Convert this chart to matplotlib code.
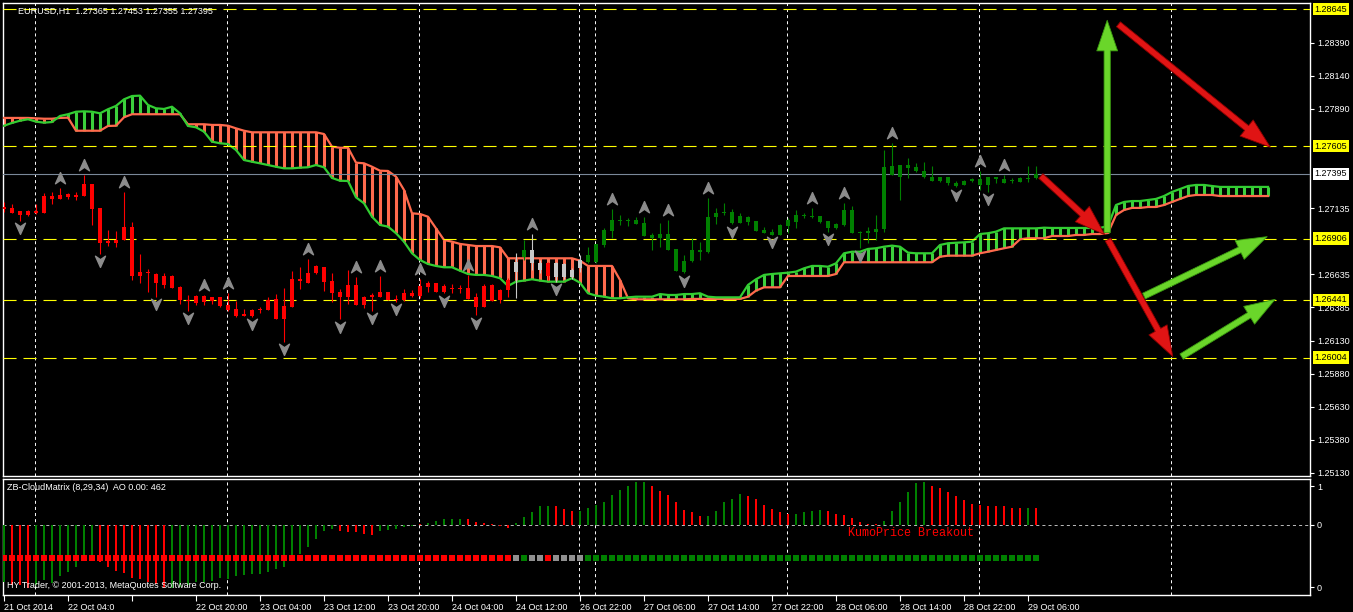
import matplotlib
matplotlib.use("Agg")
import matplotlib.pyplot as plt
from matplotlib.path import Path
from matplotlib.patches import FancyArrowPatch
from matplotlib import transforms

plt.rcParams['font.family'] = ['Liberation Sans', 'DejaVu Sans']
plt.rcParams['lines.scale_dashes'] = False

# ---- EURUSD H1 candles (bar 0 = 21 Oct 2014 20:00) ----
opens = [1.27145, 1.27137, 1.27117, 1.27084, 1.27115, 1.27102, 1.27228, 1.27208, 1.27223, 1.27238,
         1.27231, 1.27319, 1.27135, 1.26885, 1.26874, 1.26895, 1.26991, 1.26624, 1.26655, 1.26637,
         1.26554, 1.26622, 1.26539, 1.26435, 1.26420, 1.26470, 1.26435, 1.26460, 1.26402, 1.26369,
         1.26319, 1.26319, 1.26362, 1.26364, 1.26450, 1.26296, 1.26389, 1.26602, 1.26566, 1.26642,
         1.26692, 1.26587, 1.26501, 1.26460, 1.26554, 1.26402, 1.26460, 1.26465, 1.26501, 1.26440,
         1.26440, 1.26496, 1.26470, 1.26541, 1.26571, 1.26501, 1.26526, 1.26529, 1.26529, 1.26460,
         1.26389, 1.26554, 1.26440, 1.26516, 1.26652, 1.26768, 1.26819, 1.26718, 1.26720, 1.26614,
         1.26713, 1.26614, 1.26683, 1.26728, 1.26730, 1.26857, 1.26966, 1.27044, 1.27039, 1.27016,
         1.27021, 1.26933, 1.26908, 1.26940, 1.26824, 1.26655, 1.26736, 1.26819, 1.26806, 1.27067,
         1.27097, 1.27109, 1.27026, 1.27071, 1.27041, 1.26971, 1.26956, 1.26933, 1.27001, 1.27034,
         1.27079, 1.27074, 1.27077, 1.27041, 1.26983, 1.27009, 1.27122, 1.26946, 1.26946, 1.26958,
         1.26976, 1.27456, 1.27370, 1.27463, 1.27450, 1.27418, 1.27375, 1.27344, 1.27370, 1.27329,
         1.27309, 1.27342, 1.27355, 1.27312, 1.27370, 1.27355, 1.27342, 1.27337, 1.27355, 1.27365]
highs = [1.27183, 1.27168, 1.27117, 1.27122, 1.27165, 1.27249, 1.27259, 1.27289, 1.27251, 1.27261,
         1.27385, 1.27319, 1.27135, 1.26971, 1.26963, 1.27259, 1.27031, 1.26789, 1.26675, 1.26642,
         1.26642, 1.26630, 1.26546, 1.26478, 1.26478, 1.26478, 1.26465, 1.26460, 1.26491, 1.26435,
         1.26369, 1.26369, 1.26389, 1.26465, 1.26483, 1.26533, 1.26660, 1.26688, 1.26753, 1.26705,
         1.26692, 1.26642, 1.26521, 1.26667, 1.26612, 1.26473, 1.26491, 1.26622, 1.26501, 1.26478,
         1.26521, 1.26516, 1.26599, 1.26587, 1.26571, 1.26561, 1.26561, 1.26554, 1.26630, 1.26491,
         1.26561, 1.26561, 1.26521, 1.26604, 1.26794, 1.26895, 1.26940, 1.26743, 1.26728, 1.26728,
         1.26720, 1.26683, 1.26781, 1.26844, 1.26865, 1.26983, 1.27127, 1.27084, 1.27059, 1.27067,
         1.27067, 1.26946, 1.27021, 1.27046, 1.26824, 1.26781, 1.26908, 1.26882, 1.27211, 1.27135,
         1.27173, 1.27127, 1.27097, 1.27077, 1.27041, 1.26996, 1.26976, 1.27016, 1.27059, 1.27122,
         1.27102, 1.27135, 1.27077, 1.27041, 1.27021, 1.27173, 1.27153, 1.26966, 1.26996, 1.27084,
         1.27577, 1.27628, 1.27463, 1.27514, 1.27476, 1.27486, 1.27456, 1.27370, 1.27370, 1.27344,
         1.27350, 1.27363, 1.27420, 1.27375, 1.27375, 1.27388, 1.27363, 1.27375, 1.27456, 1.27453]
lows = [1.27107, 1.27097, 1.27041, 1.27079, 1.27092, 1.27102, 1.27165, 1.27208, 1.27203, 1.27198,
        1.27231, 1.27011, 1.26789, 1.26852, 1.26844, 1.26895, 1.26592, 1.26571, 1.26503, 1.26463,
        1.26533, 1.26533, 1.26408, 1.26357, 1.26402, 1.26402, 1.26408, 1.26385, 1.26359, 1.26314,
        1.26319, 1.26314, 1.26344, 1.26364, 1.26293, 1.26124, 1.26389, 1.26526, 1.26566, 1.26637,
        1.26510, 1.26427, 1.26293, 1.26409, 1.26402, 1.26377, 1.26359, 1.26465, 1.26440, 1.26427,
        1.26435, 1.26465, 1.26453, 1.26503, 1.26498, 1.26491, 1.26496, 1.26496, 1.26445, 1.26326,
        1.26384, 1.26435, 1.26415, 1.26460, 1.26453, 1.26743, 1.26667, 1.26645, 1.26592, 1.26577,
        1.26599, 1.26599, 1.26652, 1.26718, 1.26718, 1.26844, 1.26908, 1.27009, 1.27001, 1.27016,
        1.26925, 1.26819, 1.26844, 1.26819, 1.26662, 1.26642, 1.26730, 1.26743, 1.26799, 1.27016,
        1.27084, 1.27016, 1.27021, 1.27009, 1.26963, 1.26946, 1.26933, 1.26933, 1.26950, 1.26983,
        1.27059, 1.27059, 1.27026, 1.26958, 1.26976, 1.27001, 1.26946, 1.26832, 1.26870, 1.26895,
        1.26958, 1.27388, 1.27198, 1.27363, 1.27413, 1.27363, 1.27344, 1.27337, 1.27312, 1.27294,
        1.27309, 1.27337, 1.27274, 1.27261, 1.27329, 1.27325, 1.27325, 1.27337, 1.27337, 1.27355]
closes = [1.27130, 1.27102, 1.27084, 1.27117, 1.27102, 1.27228, 1.27208, 1.27236, 1.27241, 1.27223,
          1.27319, 1.27132, 1.26874, 1.26874, 1.26895, 1.26991, 1.26624, 1.26652, 1.26642, 1.26569,
          1.26622, 1.26533, 1.26440, 1.26430, 1.26470, 1.26427, 1.26460, 1.26395, 1.26364, 1.26319,
          1.26334, 1.26364, 1.26369, 1.26440, 1.26293, 1.26397, 1.26602, 1.26582, 1.26642, 1.26698,
          1.26579, 1.26491, 1.26460, 1.26554, 1.26402, 1.26460, 1.26478, 1.26503, 1.26440, 1.26448,
          1.26496, 1.26470, 1.26546, 1.26571, 1.26498, 1.26546, 1.26533, 1.26521, 1.26445, 1.26389,
          1.26546, 1.26435, 1.26516, 1.26592, 1.26728, 1.26819, 1.26718, 1.26667, 1.26622, 1.26720,
          1.26614, 1.26667, 1.26743, 1.26781, 1.26865, 1.26971, 1.27046, 1.27039, 1.27044, 1.27046,
          1.26925, 1.26908, 1.26940, 1.26819, 1.26662, 1.26736, 1.26819, 1.26806, 1.27071, 1.27097,
          1.27109, 1.27021, 1.27077, 1.27034, 1.26963, 1.26950, 1.26933, 1.27009, 1.27046, 1.27084,
          1.27081, 1.27071, 1.27034, 1.26988, 1.27016, 1.27122, 1.26946, 1.26958, 1.26966, 1.26976,
          1.27450, 1.27388, 1.27463, 1.27443, 1.27418, 1.27370, 1.27344, 1.27370, 1.27325, 1.27304,
          1.27344, 1.27355, 1.27312, 1.27370, 1.27355, 1.27329, 1.27345, 1.27363, 1.27367, 1.27395]

# cloud state per bar: R below kumo, G above, S inside
kumo_state = ("RRRRRRRRRRRRRRRRRRRRRRRRRRRRRRRRRRRRRRRRRRRRRRRRRRRRRRRRRRRRRRRR"
              "SGSSRSSSS"
              "GGGGGGGGGGGGGGGGGGGGGGGGGGGGGGGGGGGGGGGGGGGGGGGGGGGGGGGGG")

# ichimoku senkou spans (shifted 29 bars ahead)
span_a = [1.27761, 1.27782, 1.27799, 1.27810, 1.27792, 1.27784, 1.27789, 1.27835, 1.27848, 1.27867,
          1.27870, 1.27867, 1.27855, 1.27886, 1.27911, 1.27961, 1.27986, 1.27989, 1.27918, 1.27893,
          1.27888, 1.27905, 1.27855, 1.27759, 1.27749, 1.27716, 1.27640, 1.27628, 1.27622, 1.27577,
          1.27501, 1.27488, 1.27476, 1.27463, 1.27450, 1.27438, 1.27438, 1.27443, 1.27446, 1.27463,
          1.27446, 1.27365, 1.27344, 1.27342, 1.27218, 1.27173, 1.27071, 1.27009, 1.26996, 1.26946,
          1.26882, 1.26794, 1.26743, 1.26713, 1.26698, 1.26688, 1.26688, 1.26662, 1.26637, 1.26630,
          1.26630, 1.26622, 1.26605, 1.26546, 1.26579, 1.26587, 1.26597, 1.26587, 1.26579, 1.26579,
          1.26579, 1.26605, 1.26571, 1.26491, 1.26473, 1.26465, 1.26453, 1.26453, 1.26460, 1.26465,
          1.26465, 1.26465, 1.26485, 1.26478, 1.26478, 1.26485, 1.26485, 1.26491, 1.26465, 1.26460,
          1.26460, 1.26460, 1.26460, 1.26554, 1.26597, 1.26630, 1.26637, 1.26642, 1.26647, 1.26655,
          1.26680, 1.26698, 1.26698, 1.26692, 1.26718, 1.26794, 1.26806, 1.26806, 1.26827, 1.26832,
          1.26844, 1.26852, 1.26844, 1.26799, 1.26794, 1.26794, 1.26794, 1.26857, 1.26870, 1.26874,
          1.26877, 1.26882, 1.26940, 1.26946, 1.26958, 1.26983, 1.26983, 1.26983, 1.26983, 1.26983,
          1.26988, 1.26986, 1.26986, 1.26986, 1.26986, 1.26986, 1.26986, 1.26986, 1.27001, 1.27160,
          1.27183, 1.27190, 1.27190, 1.27198, 1.27206, 1.27228, 1.27259, 1.27281, 1.27304, 1.27312,
          1.27312, 1.27304, 1.27297, 1.27297, 1.27297, 1.27297, 1.27297, 1.27297, 1.27297]
span_b = [1.27820, 1.27820, 1.27820, 1.27820, 1.27817, 1.27814, 1.27814, 1.27820, 1.27822, 1.27723,
          1.27723, 1.27723, 1.27723, 1.27759, 1.27761, 1.27825, 1.27848, 1.27848, 1.27848, 1.27848,
          1.27848, 1.27848, 1.27848, 1.27772, 1.27772, 1.27772, 1.27767, 1.27767, 1.27761, 1.27741,
          1.27723, 1.27711, 1.27711, 1.27711, 1.27711, 1.27711, 1.27711, 1.27711, 1.27711, 1.27711,
          1.27698, 1.27602, 1.27594, 1.27594, 1.27481, 1.27476, 1.27450, 1.27420, 1.27418, 1.27375,
          1.27274, 1.27097, 1.27092, 1.27071, 1.26983, 1.26895, 1.26882, 1.26865, 1.26857, 1.26849,
          1.26849, 1.26849, 1.26839, 1.26756, 1.26756, 1.26756, 1.26756, 1.26756, 1.26756, 1.26756,
          1.26756, 1.26756, 1.26738, 1.26698, 1.26698, 1.26698, 1.26698, 1.26592, 1.26453, 1.26445,
          1.26445, 1.26445, 1.26445, 1.26445, 1.26445, 1.26445, 1.26448, 1.26448, 1.26448, 1.26448,
          1.26448, 1.26448, 1.26448, 1.26465, 1.26511, 1.26536, 1.26536, 1.26536, 1.26622, 1.26622,
          1.26622, 1.26622, 1.26622, 1.26622, 1.26637, 1.26726, 1.26726, 1.26726, 1.26726, 1.26726,
          1.26726, 1.26726, 1.26726, 1.26726, 1.26726, 1.26726, 1.26726, 1.26768, 1.26776, 1.26776,
          1.26776, 1.26776, 1.26794, 1.26806, 1.26819, 1.26832, 1.26844, 1.26900, 1.26908, 1.26908,
          1.26908, 1.26925, 1.26925, 1.26925, 1.26933, 1.26933, 1.26940, 1.26940, 1.26948, 1.27084,
          1.27122, 1.27138, 1.27138, 1.27145, 1.27145, 1.27160, 1.27183, 1.27206, 1.27228, 1.27236,
          1.27236, 1.27236, 1.27228, 1.27228, 1.27228, 1.27228, 1.27228, 1.27228, 1.27228]

# fractals (bar index)
up_fractals = [7, 10, 15, 25, 28, 38, 44, 47, 52, 58, 66, 76, 80, 83, 88, 101, 105, 111, 122, 125]
down_fractals = [2, 12, 19, 23, 31, 35, 42, 46, 49, 55, 59, 69, 85, 91, 96, 103, 107, 119, 123]

# ZB-CloudMatrix AO histogram
ao_values = [-1.45, -1.54, -1.55, -1.62, -1.55, -1.42, -1.48, -1.32, -1.20, -1.07,
             -0.93, -0.90, -0.96, -1.07, -1.17, -1.24, -1.35, -1.38, -1.45, -1.52,
             -1.62, -1.62, -1.58, -1.54, -1.47, -1.45, -1.44, -1.37, -1.38, -1.32,
             -1.28, -1.26, -1.25, -1.21, -1.13, -1.07, -0.92, -0.75, -0.56, -0.36,
             -0.15, -0.11, -0.15, -0.19, -0.19, -0.22, -0.26, -0.15, -0.13, -0.09,
             -0.04, -0.02, 0.02, 0.04, 0.11, 0.15, 0.15, 0.15, 0.15, 0.07,
             0.04, 0.02, -0.03, -0.07, 0.05, 0.20, 0.34, 0.49, 0.49, 0.49,
             0.41, 0.37, 0.37, 0.44, 0.52, 0.60, 0.77, 0.90, 1.01, 1.10,
             1.10, 0.99, 0.88, 0.77, 0.58, 0.38, 0.33, 0.22, 0.22, 0.36,
             0.58, 0.66, 0.80, 0.74, 0.66, 0.52, 0.41, 0.33, 0.27, 0.27,
             0.33, 0.36, 0.38, 0.36, 0.27, 0.25, 0.19, 0.08, 0.03, 0.03,
             0.11, 0.36, 0.58, 0.85, 1.07, 1.10, 0.99, 0.96, 0.85, 0.74,
             0.63, 0.55, 0.52, 0.49, 0.49, 0.49, 0.44, 0.44, 0.44, 0.44]
ao_colors = ("GRRRGGGGGGGGRRRRRRRRRGGGGGGGGGGGGGGGGGGGGGRRRRRGGGGGRGGGGGRRRRRR"
             "GGGGGRRRGGGGGGGGGRRRRRRRGGGGGRRRRRRGGGGRRRRRRRGGGGGGRRRRRRRRRRRRGR")

# levels and labels
level_lines = [1.28645, 1.27605, 1.26906, 1.26441, 1.26004]
bid_price = 1.27395
price_ticks = [1.28390, 1.28140, 1.27890, 1.27135, 1.26635,
               1.26385, 1.26130, 1.25880, 1.25630, 1.25380, 1.25130]
time_ticks = [0, 8, 16, 24, 32, 40, 48, 56, 64, 72, 80, 88, 96, 104, 112, 120, 128]
time_labels = ["21 Oct 2014", "22 Oct 04:0", "", "22 Oct 20:00", "23 Oct 04:00", "23 Oct 12:00",
               "23 Oct 20:00", "24 Oct 04:00", "24 Oct 12:00", "26 Oct 22:00", "27 Oct 06:00",
               "27 Oct 14:00", "27 Oct 22:00", "28 Oct 06:00", "28 Oct 14:00", "28 Oct 22:00",
               "29 Oct 06:00"]
grid_bars = [4, 28, 52, 72, 74, 98, 122, 146]

# hand-drawn forecast arrows (bar, price)
arrow_from = [(139.3, 1.28530), (129.6, 1.27380), (138.0, 1.26898),
              (137.9, 1.26951), (142.5, 1.26470), (147.2, 1.26011)]
arrow_to = [(158.3, 1.27598), (137.6, 1.26935), (146.1, 1.26011),
            (137.9, 1.28560), (157.9, 1.26920), (158.9, 1.26445)]
arrow_colors = ['#E01414', '#E01414', '#E01414', '#6AD62A', '#6AD62A', '#6AD62A']

W, H = 1353, 612
fig = plt.figure(figsize=(W / 100, H / 100), dpi=100, facecolor='black')
ax = fig.add_axes([3 / W, 1 - 476 / H, 1307 / W, 473 / H], facecolor='black')
ax2 = fig.add_axes([3 / W, 1 - 595 / H, 1307 / W, 116 / H], facecolor='black', sharex=ax)

for a in (ax, ax2):
    for s in a.spines.values():
        s.set_color('white')
        s.set_linewidth(1)
    for g in grid_bars:
        a.axvline(g - 0.125, color='white', lw=0.7, ls=(0, (2.2, 2.2)), zorder=1)

n = len(opens)
xs = list(range(n))
ppx = 0.0000758  # price per pixel

# cloud hatch
for i in range(len(span_a)):
    col = '#3CD03C' if span_a[i] >= span_b[i] else '#FF6A4D'
    ax.vlines(i, min(span_a[i], span_b[i]), max(span_a[i], span_b[i]), color=col, lw=2.2, zorder=2)
ax.plot(range(len(span_a)), span_b, color='#FF6A4D', lw=1.6, zorder=3)
ax.plot(range(len(span_a)), span_a, color='#32CD32', lw=1.6, zorder=3)

# levels
for lv in level_lines:
    ax.axhline(lv, color='#FFFF00', lw=0.8, ls=(0, (9.4, 5)), zorder=4)
ax.axhline(bid_price, color='#7A8899', lw=0.8, zorder=4)

# candles
cmap = {'R': '#FF0000', 'G': '#008000', 'S': '#C8C8C8'}
for i in xs:
    c = cmap[kumo_state[i]]
    ax.vlines(i, lows[i], highs[i], color=c, lw=0.8, zorder=5)
    lo = min(opens[i], closes[i])
    hgt = max(abs(closes[i] - opens[i]), ppx)
    ax.bar(i, hgt, bottom=lo, width=0.62, color=c, linewidth=0, zorder=5)

# fractals
up_path = Path([(0, 1), (0.85, -0.9), (0, -0.3), (-0.85, -0.9), (0, 1)],
               [Path.MOVETO, Path.LINETO, Path.LINETO, Path.LINETO, Path.CLOSEPOLY])
dn_path = Path([(0, -1), (0.85, 0.9), (0, 0.3), (-0.85, 0.9), (0, -1)],
               [Path.MOVETO, Path.LINETO, Path.LINETO, Path.LINETO, Path.CLOSEPOLY])
t_up = transforms.offset_copy(ax.transData, fig=fig, x=0, y=10, units='dots')
t_dn = transforms.offset_copy(ax.transData, fig=fig, x=0, y=-7.5, units='dots')
ax.plot(up_fractals, [highs[i] for i in up_fractals], ls='none', marker=up_path,
        ms=8.5, color='#8C8C8C', transform=t_up, zorder=6)
ax.plot(down_fractals, [lows[i] for i in down_fractals], ls='none', marker=dn_path,
        ms=8.5, color='#8C8C8C', transform=t_dn, zorder=6)

# arrows
for p0, p1, col in zip(arrow_from, arrow_to, arrow_colors):
    ec = '#8A0000' if col.startswith('#E') else '#3A9A10'
    arr = FancyArrowPatch(p0, p1, arrowstyle='simple,head_length=22,head_width=15,tail_width=4.5',
                          mutation_scale=1, shrinkA=0, shrinkB=0, fc=col, ec=ec, lw=0.6, zorder=8)
    ax.add_patch(arr)

ax.set_xlim(-0.125, 163.25)
ax.set_ylim(1.27395 - 302 * ppx, 1.27395 + 171 * ppx)
ax.yaxis.tick_right()
ax.set_yticks(price_ticks)
ax.set_yticklabels([f'{p:.5f}' for p in price_ticks])
ax.tick_params(axis='y', colors='white', labelsize=6.5, length=3, pad=2, width=0.8)
ax.tick_params(axis='x', bottom=False, labelbottom=False)

blend = transforms.blended_transform_factory(ax.transAxes, ax.transData)
for lv in level_lines:
    ax.text(1.0035, lv, f'{lv:.5f}', transform=blend, color='black', fontsize=6.5, va='center',
            ha='left', bbox=dict(boxstyle='square,pad=0.18', fc='#FFFF00', ec='none'),
            clip_on=False, zorder=20)
ax.text(1.0035, bid_price, f'{bid_price:.5f}', transform=blend, color='black', fontsize=6.5,
        va='center', ha='left', bbox=dict(boxstyle='square,pad=0.18', fc='white', ec='none'),
        clip_on=False, zorder=20)

ax.text(15 / 1307, 0.983, 'EURUSD,H1  1.27365 1.27453 1.27355 1.27395', transform=ax.transAxes,
        color='white', fontsize=6.5, va='center', ha='left', zorder=21)

# lower panel
ax2.axhline(0, color='#BBBBBB', lw=0.7, ls=(0, (2.2, 2.2)), zorder=1)
ax2.bar(xs, ao_values, width=0.36, color=['#008000' if c == 'G' else '#FF0000' for c in ao_colors],
        linewidth=0, zorder=3)
sq_colors = {'R': '#FF0000', 'G': '#008000', 'S': '#909090'}
ax2.scatter(xs, [-0.85] * n, marker='s', s=18, c=[sq_colors[s] for s in kumo_state],
            linewidths=0, zorder=4)
ax2.set_ylim(-70 / 39, 46 / 39)
ax2.yaxis.tick_right()
ax2.set_yticks([1, 0, -1.59])
ax2.set_yticklabels(['1', '0', '0'])
ax2.tick_params(axis='y', colors='white', labelsize=6.5, length=3, pad=2, width=0.8)
ax2.set_xticks(time_ticks)
ax2.set_xticklabels(time_labels, ha='left')
ax2.tick_params(axis='x', colors='white', labelsize=6.5, length=4, pad=1.5, width=0.8)

ax2.text(4 / 1307, 0.93, 'ZB-CloudMatrix (8,29,34)  AO 0.00: 462', transform=ax2.transAxes,
         color='white', fontsize=6.5, va='center', ha='left')
ax2.text(4 / 1307, 0.078, 'HY Trader, \u00a9 2001-2013, MetaQuotes Software Corp.',
         transform=ax2.transAxes, color='white', fontsize=6.5, va='center', ha='left')
ax2.text(845 / 1307, 0.534, 'KumoPrice Breakout', transform=ax2.transAxes, color='#FF0000',
         fontsize=8.5, family='Liberation Mono', va='center', ha='left')

fig.savefig('out.png', dpi=100, facecolor='black')
